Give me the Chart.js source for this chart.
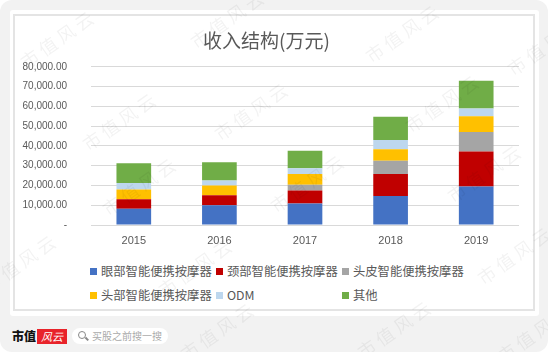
<!DOCTYPE html>
<html>
<head>
<meta charset="utf-8">
<script src="https://cdn.jsdelivr.net/npm/chart.js@4.4.0/dist/chart.umd.min.js"></script>
<style>
  body { margin: 0; background: #fff; }
  #frame { position: relative; width: 548px; height: 352px; background: #f2f2f2; border-radius: 12px; overflow: hidden; font-family: 'Noto Sans CJK SC', sans-serif; }
  #card { position: absolute; left: 10px; top: 10px; width: 529px; height: 306px; background: #fff; border-radius: 3px; }
  #inner { position: absolute; left: 13px; top: 14px; width: 522px; height: 297px; box-sizing: border-box; border: 2px solid #e4e4e4; }
  #chart { position: absolute; left: 14px; top: 15px; }
  #legend { position: absolute; left: 90px; top: 259px; display: grid; grid-template-columns: 126px 126px 126px; grid-auto-rows: 24px; }
  .item { display: flex; align-items: center; font-size: 12.3px; color: #595959; white-space: nowrap; }
  .box { width: 7px; height: 7px; margin-right: 4px; flex: none; }
  #marks { position: absolute; left: 0; top: 0; width: 548px; height: 352px; pointer-events: none; }
  .wm { position: absolute; font-size: 18px; letter-spacing: 4px; color: rgba(0,0,0,0.05); transform: translate(-50%, -50%) rotate(-35deg); white-space: nowrap; }
  #logo { position: absolute; left: 12px; top: 327px; font-size: 12px; font-weight: 900; color: #111; line-height: 18px; }
  #logo2 { position: absolute; left: 37px; top: 329px; width: 30px; height: 15px; background: #e8232a; color: #fff; font-size: 11px; font-style: italic; line-height: 15px; text-align: center; }
  #search { position: absolute; left: 72px; top: 328px; width: 96px; height: 16px; border-radius: 8px; background: #fff; }
  #search .lens { position: absolute; left: 6px; top: 3px; width: 6px; height: 6px; border: 1.5px solid #888; border-radius: 50%; }
  #search .handle { position: absolute; left: 13px; top: 10px; width: 4px; height: 1.5px; background: #888; transform: rotate(45deg); }
  #search .txt { position: absolute; left: 20px; top: 0; font-size: 10px; line-height: 16px; color: #aaa; white-space: nowrap; }
</style>
</head>
<body>
<div id="frame">
  <div id="card"></div>
  <div id="inner"></div>
  <canvas id="chart" width="520" height="240"></canvas>
  <div id="legend"></div>
  <div id="logo">市值</div>
  <div id="logo2">风云</div>
  <div id="search"><div class="lens"></div><div class="handle"></div><div class="txt">买股之前搜一搜</div></div>
  <div id="marks"></div>
</div>
<script>
// data (万元)
const years = ['2015', '2016', '2017', '2018', '2019'];
const seriesNames = ['眼部智能便携按摩器', '颈部智能便携按摩器', '头皮智能便携按摩器', '头部智能便携按摩器', 'ODM', '其他'];
const eyeValues = [8200, 10000, 10850, 14700, 19500];
const neckValues = [4800, 5000, 6650, 11150, 17700];
const scalpValues = [0, 0, 2850, 6650, 9800];
const headValues = [5000, 5000, 5500, 5850, 8000];
const odmValues = [3200, 2500, 2850, 4650, 3850];
const otherValues = [10000, 9200, 8800, 11700, 14150];
const seriesColors = ['#4472C4', '#C00000', '#A5A5A5', '#FFC000', '#BDD7EE', '#70AD47'];

const seriesValues = [eyeValues, neckValues, scalpValues, headValues, odmValues, otherValues];

Chart.defaults.font.family = "'Liberation Sans', 'Noto Sans CJK SC', sans-serif";
Chart.defaults.color = '#595959';

const chart = new Chart(document.getElementById('chart').getContext('2d'), {
    type: 'bar',
    data: {
        labels: years,
        datasets: seriesNames.map((name, i) => ({
            label: name,
            data: seriesValues[i],
            backgroundColor: seriesColors[i],
            borderWidth: 0,
            barPercentage: 0.405,
            categoryPercentage: 1
        }))
    },
    options: {
        responsive: false,
        animation: false,
        layout: { padding: { left: 0, right: 15, top: 0, bottom: 0 } },
        scales: {
            x: {
                stacked: true,
                grid: { display: false, drawTicks: false },
                border: { display: false },
                ticks: { font: { size: 11 }, color: '#595959', padding: 9 },
                afterFit: function(scale) { scale.height = 28.3; }
            },
            y: {
                stacked: true,
                min: 0,
                max: 80000,
                grid: { color: '#d9d9d9', drawTicks: false },
                border: { display: false },
                ticks: {
                    stepSize: 10000,
                    padding: 24,
                    font: { size: 10 },
                    color: '#595959',
                    callback: function(value) {
                        if (value === 0) return '-';
                        return value.toLocaleString('en-US', { minimumFractionDigits: 2, maximumFractionDigits: 2 });
                    }
                },
                afterFit: function(scale) { scale.width = 77; }
            }
        },
        plugins: {
            legend: { display: false },
            tooltip: { enabled: false },
            title: {
                display: true,
                text: '收入结构(万元)',
                color: '#595959',
                font: { size: 19, weight: 'normal', family: "'Noto Sans CJK SC', sans-serif" },
                padding: { top: 14, bottom: 15 }
            }
        }
    }
});

// legend in three columns like the original
const legend = document.getElementById('legend');
chart.data.datasets.forEach(ds => {
    const item = document.createElement('div');
    item.className = 'item';
    const box = document.createElement('span');
    box.className = 'box';
    box.style.background = ds.backgroundColor;
    item.appendChild(box);
    item.appendChild(document.createTextNode(ds.label));
    legend.appendChild(item);
});

// faint watermark
const markSpots = [[58, 38], [228, 18], [403, 32], [545, 45], [252, 110], [443, 102], [120, 120],
    [140, 185], [308, 182], [485, 172], [20, 262], [196, 266], [515, 254], [218, 330], [395, 328], [535, 332]];
const marks = document.getElementById('marks');
markSpots.forEach(p => {
    const d = document.createElement('div');
    d.className = 'wm';
    d.style.left = p[0] + 'px';
    d.style.top = p[1] + 'px';
    d.textContent = '市值风云';
    marks.appendChild(d);
});
</script>
</body>
</html>
